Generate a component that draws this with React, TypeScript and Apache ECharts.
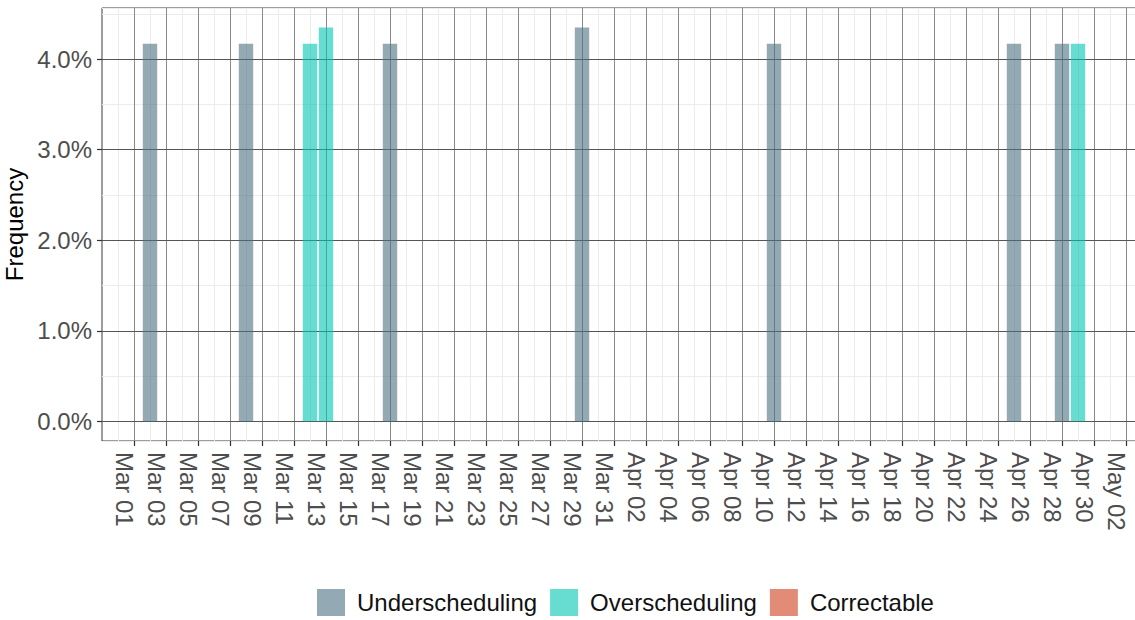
import React, { useEffect, useRef } from "react";
import * as echarts from "echarts";

const MONTHS = ["Jan", "Feb", "Mar", "Apr", "May", "Jun"];

const TICK_LABELS = [
  "Mar 01", "Mar 03", "Mar 05", "Mar 07", "Mar 09", "Mar 11", "Mar 13", "Mar 15",
  "Mar 17", "Mar 19", "Mar 21", "Mar 23", "Mar 25", "Mar 27", "Mar 29", "Mar 31",
  "Apr 02", "Apr 04", "Apr 06", "Apr 08", "Apr 10", "Apr 12", "Apr 14", "Apr 16",
  "Apr 18", "Apr 20", "Apr 22", "Apr 24", "Apr 26", "Apr 28", "Apr 30", "May 02",
];

const UNDER_DATES = ["Mar 02", "Mar 08", "Mar 17", "Mar 29", "Apr 10", "Apr 25", "Apr 28"];
const UNDER_VALUES = [4.17, 4.17, 4.17, 4.35, 4.17, 4.17, 4.17];

const OVER_DATES = ["Mar 12", "Mar 13", "Apr 29"];
const OVER_VALUES = [4.17, 4.35, 4.17];

const CORR_DATES: string[] = [];
const CORR_VALUES: number[] = [];

const Y_TICKS = [0, 1, 2, 3, 4];

const X_MIN_DATE = "Feb 27";
const X_MAX_DATE = "May 04";
const Y_MIN = -0.2175;
const Y_MAX = 4.565;

const FONT = "'Liberation Sans', Arial, Helvetica, sans-serif";

function dayOffset(label: string): number {
  const [mon, day] = label.split(" ");
  const m = MONTHS.indexOf(mon);
  const t = Date.UTC(2021, m, parseInt(day, 10));
  const t0 = Date.UTC(2021, 2, 1);
  return Math.round((t - t0) / 86400000);
}

const TICK_POS = TICK_LABELS.map(dayOffset);

function pairs(dates: string[], values: number[]) {
  return dates.map((d, i) => [dayOffset(d), values[i]]);
}

export default function App() {
  const ref = useRef<HTMLDivElement>(null);

  useEffect(() => {
    if (!ref.current) return;
    const chart = echarts.init(ref.current, undefined, { renderer: "svg" });
    const labelMap: Record<number, string> = {};
    TICK_POS.forEach((p, i) => (labelMap[p] = TICK_LABELS[i]));

    chart.setOption({
      animation: false,
      backgroundColor: "#ffffff",
      grid: {
        left: 102,
        top: 8,
        right: -23,
        bottom: 179,
        show: true,
        borderColor: "#3a3a3a",
        borderWidth: 1,
        backgroundColor: "transparent",
        containLabel: false,
        outerBoundsMode: "none",
      },
      legend: {
        left: 317,
        top: 589,
        padding: 0,
        orient: "horizontal",
        icon: "rect",
        itemWidth: 28,
        itemHeight: 27,
        itemGap: 13,
        textStyle: {
          fontSize: 24,
          color: "#111",
          fontFamily: FONT,
          padding: [0, 0, 0, 7],
        },
        data: ["Underscheduling", "Overscheduling", "Correctable"],
      },
      xAxis: {
        type: "value",
        min: dayOffset(X_MIN_DATE),
        max: dayOffset(X_MAX_DATE),
        interval: 2,
        axisLine: { show: false, onZero: false },
        axisTick: {
          show: true,
          length: 5,
          customValues: TICK_POS,
          lineStyle: { color: "#333", width: 1.2 },
        },
        axisLabel: {
          customValues: TICK_POS,
          formatter: (v: number) => labelMap[v] ?? "",
          rotate: -90,
          verticalAlign: "top",
          lineHeight: 20,
          fontSize: 24,
          color: "#4d4d4d",
          fontFamily: FONT,
          margin: 11,
        },
        splitLine: { show: true, lineStyle: { color: "#8a8a8a", width: 1 } },
        minorTick: { show: false, splitNumber: 2 },
        minorSplitLine: { show: true, lineStyle: { color: "#ececec", width: 1 } },
      },
      yAxis: [
        {
          type: "value",
          min: Y_MIN,
          max: Y_MAX,
          minInterval: 0.5,
          maxInterval: 0.5,
          splitNumber: 10,
          z: 0,
          axisLine: { show: false, onZero: false },
          axisTick: { show: false },
          axisLabel: { show: false },
          splitLine: { show: true, lineStyle: { color: "#ececec", width: 1 } },
        },
        {
          type: "value",
          position: "left",
          min: Y_MIN,
          max: Y_MAX,
          minInterval: 1,
          maxInterval: 1,
          z: 1,
          name: "Frequency",
          nameLocation: "middle",
          nameGap: 70,
          nameTextStyle: { fontSize: 24, color: "#000", fontFamily: FONT },
          axisLine: { show: false, onZero: false },
          axisTick: {
            show: true,
            length: 5,
            customValues: Y_TICKS,
            lineStyle: { color: "#333", width: 1.2 },
          },
          axisLabel: {
            customValues: Y_TICKS,
            formatter: (v: number) => v.toFixed(1) + "%",
            fontSize: 24,
            color: "#4d4d4d",
            fontFamily: FONT,
            margin: 10,
          },
          splitLine: { show: true, lineStyle: { color: "#555555", width: 1 } },
        },
      ],
      series: [
        {
          name: "Underscheduling",
          type: "bar",
          xAxisIndex: 0,
          yAxisIndex: 1,
          barWidth: 14.4,
          barGap: "-100%",
          itemStyle: { color: "rgba(75,113,132,0.6)" },
          data: pairs(UNDER_DATES, UNDER_VALUES),
        },
        {
          name: "Overscheduling",
          type: "bar",
          xAxisIndex: 0,
          yAxisIndex: 1,
          barWidth: 14.4,
          barGap: "-100%",
          itemStyle: { color: "rgba(0,198,177,0.6)" },
          data: pairs(OVER_DATES, OVER_VALUES),
        },
        {
          name: "Correctable",
          type: "bar",
          xAxisIndex: 0,
          yAxisIndex: 1,
          barWidth: 14.4,
          barGap: "-100%",
          itemStyle: { color: "rgba(207,63,28,0.6)" },
          data: pairs(CORR_DATES, CORR_VALUES),
        },
      ],
    });

    return () => chart.dispose();
  }, []);

  return (
    <div
      ref={ref}
      style={{ position: "fixed", left: 0, top: 0, width: 1135, height: 620, background: "#fff" }}
    />
  );
}
